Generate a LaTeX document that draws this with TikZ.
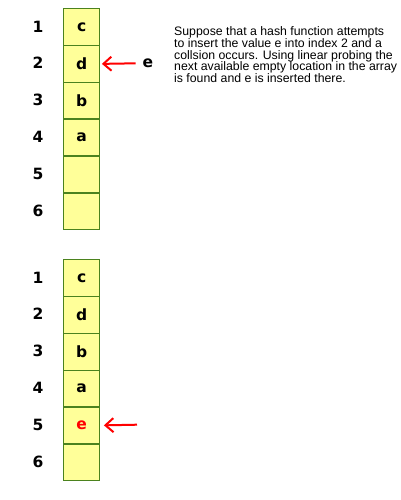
\documentclass[tikz,border=0pt]{standalone}
\usepackage{fontspec}
\setmainfont{Liberation Sans}
\newfontfamily\cellfont{DejaVu Sans}
\usetikzlibrary{arrows.meta}
\definecolor{cellfill}{RGB}{255,255,153}
\definecolor{cellline}{RGB}{75,130,30}
\begin{document}
\begin{tikzpicture}[x=1pt,y=-1pt,
 cell/.style={draw=cellline, fill=cellfill, line width=1.4pt, minimum width=36pt, minimum height=36.8pt, inner sep=0pt, font=\cellfont\bfseries\fontsize{15.5}{15.5}\selectfont, anchor=north west},
 idx/.style={font=\cellfont\bfseries\fontsize{15.5}{15.5}\selectfont, inner sep=0pt},
 ptr/.style={draw=red, line width=2pt, -{Straight Barb[length=8pt,width=14pt]}},
 note/.style={font=\fontsize{12.3}{11.7}\selectfont, align=left, anchor=north west, inner sep=0pt}]
\fill[white] (0,0) rectangle (400,500);
\useasboundingbox (0,0) rectangle (400,500);
% top array
\node[cell] (t1) at (63,8) {c};
\node[cell] (t2) at (63,44.8) {d};
\node[cell] (t3) at (63,81.7) {b};
\node[cell] (t4) at (63,118.5) {a};
\node[cell] (t5) at (63,155.3) {};
\node[cell] (t6) at (63,192.2) {};
\node[idx] (ti1) at (38,26.4) {1};
\node[idx] (ti2) at (38,63.2) {2};
\node[idx] (ti3) at (38,100.1) {3};
\node[idx] (ti4) at (38,136.9) {4};
\node[idx] (ti5) at (38,173.7) {5};
\node[idx] (ti6) at (38,210.6) {6};
\node[idx] (te) at (148,63.2) {e};
\draw[ptr, shorten <=7pt, shorten >=1.5pt] (te.west) -- (t2.east);
\node[note] (n) at (174,26.5) {Suppose that a hash function attempts\\to insert the value e into index 2 and a\\collsion occurs. Using linear probing the\\next available empty location in the array\\is found and e is inserted there.};
% bottom array
\node[cell] (b1) at (63,259) {c};
\node[cell] (b2) at (63,295.8) {d};
\node[cell] (b3) at (63,332.7) {b};
\node[cell] (b4) at (63,369.5) {a};
\node[cell, text=red] (b5) at (63,406.3) {e};
\node[cell] (b6) at (63,443.2) {};
\node[idx] (bi1) at (38,277.4) {1};
\node[idx] (bi2) at (38,314.2) {2};
\node[idx] (bi3) at (38,351.1) {3};
\node[idx] (bi4) at (38,387.9) {4};
\node[idx] (bi5) at (38,424.7) {5};
\node[idx] (bi6) at (38,461.6) {6};
\coordinate (bt) at (137,424.7);
\draw[ptr, shorten >=3.5pt] (bt) -- (b5.east);
\end{tikzpicture}
\end{document}
